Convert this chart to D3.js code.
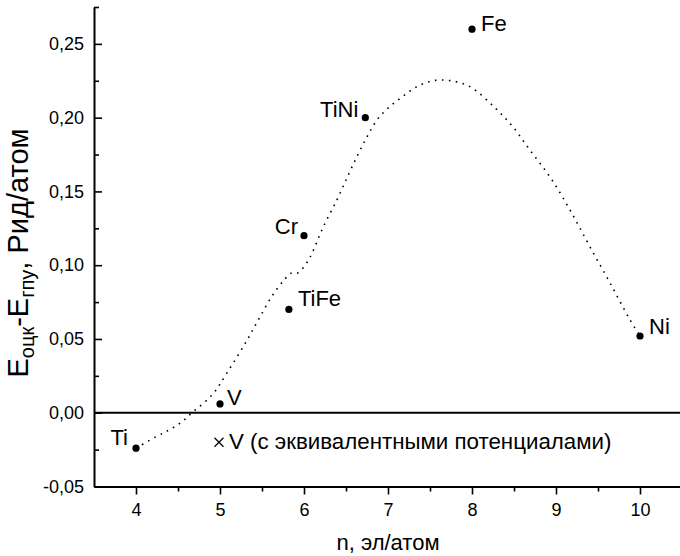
<!DOCTYPE html>
<html>
<head>
<meta charset="utf-8">
<script src="https://cdn.jsdelivr.net/npm/d3@7"></script>
<style>
  body { margin: 0; background: #fff; }
  svg { display: block; font-family: "Liberation Sans", Arial, sans-serif; }
</style>
</head>
<body>
<div id="chart"></div>
<script>
// computed points
const names = ["Ti", "V", "TiFe", "Cr", "TiNi", "Fe", "Ni"];
const nVals = [4, 5, 5.82, 6, 6.73, 8, 10];
const dE = [-0.024, 0.006, 0.07, 0.12, 0.20, 0.26, 0.052];

// V with equivalent potentials
const eqN = [5];
const eqE = [-0.020];
const eqLabel = "V (с эквивалентными потенциалами)";

// dotted guide curve
const curveN = [4.0, 4.23, 4.40, 4.55, 4.667, 4.905, 5.083, 5.32, 5.476, 5.63, 5.774, 5.857, 5.929,
  6.036, 6.095, 6.23, 6.39, 6.51, 6.63, 6.75, 6.87, 7.00, 7.167, 7.345, 7.54, 7.74, 7.976,
  8.274, 8.488, 8.69, 8.929, 9.167, 9.405, 9.643, 9.881, 10.0];
const curveE = [-0.024, -0.0165, -0.0115, -0.006, 0.0, 0.012, 0.027, 0.049, 0.065, 0.080, 0.0907, 0.0949, 0.0949,
  0.102, 0.108, 0.126, 0.144, 0.159, 0.1736, 0.187, 0.1985, 0.2064, 0.214, 0.221, 0.2251, 0.2251, 0.221,
  0.2066, 0.1937, 0.178, 0.1598, 0.1374, 0.1124, 0.088, 0.063, 0.052];

const xTicks = [4, 5, 6, 7, 8, 9, 10];
const xMinor = [4.5, 5.5, 6.5, 7.5, 8.5, 9.5];
const yTicks = [-0.05, 0, 0.05, 0.10, 0.15, 0.20, 0.25];
const yMinor = [-0.025, 0.025, 0.075, 0.125, 0.175, 0.225, 0.275];

// label placement (px offsets from the point)
const labelPos = {
  Ti:   {dx: -8, dy: -3, anchor: "end"},
  V:    {dx: 7,  dy: 1,  anchor: "start"},
  TiFe: {dx: 9,  dy: -3, anchor: "start"},
  Cr:   {dx: -6, dy: -2, anchor: "end"},
  TiNi: {dx: -7, dy: -1, anchor: "end"},
  Fe:   {dx: 9,  dy: 2,  anchor: "start"},
  Ni:   {dx: 9,  dy: -2, anchor: "start"}
};

const width = 680, height = 556;
const svg = d3.select("#chart").append("svg")
  .attr("width", width).attr("height", height);

const x = d3.scaleLinear().domain([3.5, 10.5]).range([94, 682]);
const y = d3.scaleLinear().domain([-0.05, 0.275]).range([486.5, 7]);

const fmt = d => d3.format(".2f")(d).replace(".", ",").replace("\u2212", "-");

// zero line
svg.append("line")
  .attr("x1", x(3.5)).attr("x2", x(10.5))
  .attr("y1", y(0)).attr("y2", y(0))
  .attr("stroke", "#000").attr("stroke-width", 2);

// axes
svg.append("g")
  .attr("transform", "translate(0," + y(-0.05) + ")")
  .call(d3.axisBottom(x).tickValues(xTicks).tickSizeInner(8).tickSizeOuter(0).tickPadding(9).tickFormat(d3.format("d")));
svg.append("g")
  .attr("transform", "translate(0," + y(-0.05) + ")")
  .call(d3.axisBottom(x).tickValues(xMinor).tickSize(5).tickFormat(""))
  .call(g => g.select(".domain").remove());

svg.append("g")
  .attr("transform", "translate(" + x(3.5) + ",0)")
  .call(d3.axisLeft(y).tickValues(yTicks).tickSizeInner(-8).tickSizeOuter(0).tickPadding(10).tickFormat(fmt));
svg.append("g")
  .attr("transform", "translate(" + x(3.5) + ",0)")
  .call(d3.axisLeft(y).tickValues(yMinor).tickSize(-5).tickFormat(""))
  .call(g => g.select(".domain").remove());

svg.selectAll(".domain").attr("stroke-width", 2);
svg.selectAll(".tick line").attr("stroke-width", 1.6);
svg.selectAll(".tick text").attr("font-size", 18).attr("fill", "#000")
  .attr("font-family", "'Liberation Sans', Arial, sans-serif");

// dotted curve
const curvePts = curveN.map((n, i) => [n, curveE[i]]);
svg.append("path")
  .datum(curvePts)
  .attr("fill", "none")
  .attr("stroke", "#000")
  .attr("stroke-width", 1.6)
  .attr("stroke-dasharray", "1.6 5.4")
  .attr("d", d3.line().x(d => x(d[0])).y(d => y(d[1])).curve(d3.curveCatmullRom.alpha(0.5)));

// points
const pts = names.map((name, i) => ({name: name, n: nVals[i], e: dE[i]}));
svg.selectAll("circle.pt")
  .data(pts)
  .enter().append("circle")
  .attr("class", "pt")
  .attr("r", 3.6)
  .attr("cx", d => x(d.n))
  .attr("cy", d => y(d.e))
  .attr("fill", "#000");

svg.selectAll("text.lbl")
  .data(pts)
  .enter().append("text")
  .attr("class", "lbl")
  .attr("x", d => x(d.n) + labelPos[d.name].dx)
  .attr("y", d => y(d.e) + labelPos[d.name].dy)
  .attr("text-anchor", d => labelPos[d.name].anchor)
  .attr("font-size", 22)
  .text(d => d.name);

// equivalent-potential V (cross marker)
const eq = eqN.map((n, i) => ({n: n, e: eqE[i]}));
svg.selectAll("path.eq")
  .data(eq)
  .enter().append("path")
  .attr("class", "eq")
  .attr("transform", d => "translate(" + (x(d.n) - 1) + "," + y(d.e) + ")")
  .attr("d", d3.symbol().type(d3.symbolX).size(55))
  .attr("fill", "none")
  .attr("stroke", "#000")
  .attr("stroke-width", 1.2);
svg.selectAll("text.eq")
  .data(eq)
  .enter().append("text")
  .attr("class", "eq")
  .attr("x", d => x(d.n) + 9)
  .attr("y", d => y(d.e) + 7)
  .attr("font-size", 22.3)
  .text(eqLabel);

// axis titles
svg.append("text")
  .attr("x", x(7))
  .attr("y", 550)
  .attr("text-anchor", "middle")
  .attr("font-size", 22)
  .text("n, эл/атом");

const yl = svg.append("text")
  .attr("transform", "translate(28," + 253 + ") rotate(-90)")
  .attr("text-anchor", "middle")
  .attr("font-size", 29);
yl.append("tspan").text("E");
yl.append("tspan").attr("font-size", 20).attr("dy", 6).text("оцк");
yl.append("tspan").attr("dy", -6).text("-E");
yl.append("tspan").attr("font-size", 20).attr("dy", 6).text("гпу");
yl.append("tspan").attr("dy", -6).text(", Рид/атом");
</script>
</body>
</html>
